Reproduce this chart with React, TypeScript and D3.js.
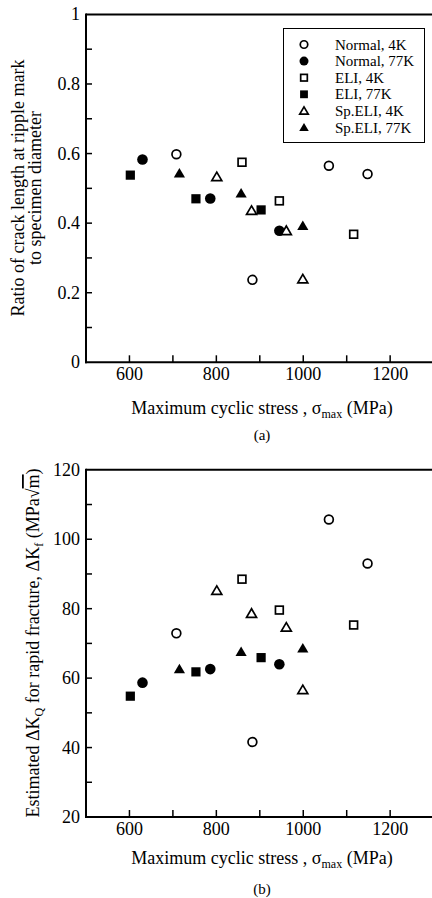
import React from "react";
import * as d3 from "d3";

// ---- Data (stress in MPa) ----
const normal4kX = [708, 883, 1059, 1148];
const normal4kRatio = [0.598, 0.237, 0.565, 0.541];
const normal4kDK = [72.9, 41.6, 105.7, 93.0];

const normal77kX = [630, 786, 945];
const normal77kRatio = [0.583, 0.471, 0.378];
const normal77kDK = [58.7, 62.6, 64.0];

const eli4kX = [859, 945, 1116];
const eli4kRatio = [0.575, 0.464, 0.368];
const eli4kDK = [88.5, 79.6, 75.3];

const eli77kX = [602, 753, 903];
const eli77kRatio = [0.538, 0.47, 0.438];
const eli77kDK = [54.8, 61.8, 65.9];

const spEli4kX = [801, 881, 961, 999];
const spEli4kRatio = [0.533, 0.436, 0.378, 0.239];
const spEli4kDK = [85.2, 78.6, 74.6, 56.6];

const spEli77kX = [715, 857, 999];
const spEli77kRatio = [0.543, 0.486, 0.392];
const spEli77kDK = [62.6, 67.6, 68.6];

const seriesNames = ["Normal, 4K", "Normal, 77K", "ELI, 4K", "ELI, 77K", "Sp.ELI, 4K", "Sp.ELI, 77K"];
const seriesShapes = ["circle", "circle", "square", "square", "triangle", "triangle"];
const seriesFilled = [false, true, false, true, false, true];
const seriesX = [normal4kX, normal77kX, eli4kX, eli77kX, spEli4kX, spEli77kX];
const seriesRatio = [normal4kRatio, normal77kRatio, eli4kRatio, eli77kRatio, spEli4kRatio, spEli77kRatio];
const seriesDK = [normal4kDK, normal77kDK, eli4kDK, eli77kDK, spEli4kDK, spEli77kDK];

const xMajorTicks = [600, 800, 1000, 1200];
const xMinorTicks = [600, 700, 800, 900, 1000, 1100, 1200];
const ratioMajorTicks = [0, 0.2, 0.4, 0.6, 0.8, 1];
const ratioMinorTicks = [0.1, 0.2, 0.3, 0.4, 0.5, 0.6, 0.7, 0.8, 0.9];
const dkMajorTicks = [20, 40, 60, 80, 100, 120];
const dkMinorTicks = [30, 40, 50, 60, 70, 80, 90, 100, 110];

const FONT = "Liberation Serif, Times New Roman, Times, DejaVu Serif, serif";

function Marker({ shape, filled, x, y, s = 1 }: { shape: string; filled: boolean; x: number; y: number; s?: number }) {
  const fill = filled ? "#000" : "#fff";
  const sw = filled ? 0 : 1.7;
  if (shape === "circle") {
    const r = (filled ? 5.3 : 4.4) * s;
    return <circle cx={x} cy={y} r={r} fill={fill} stroke="#000" strokeWidth={sw} />;
  }
  if (shape === "square") {
    const h = (filled ? 4.6 : 3.9) * s;
    return <rect x={x - h} y={y - h} width={2 * h} height={2 * h} fill={fill} stroke="#000" strokeWidth={sw} />;
  }
  const w = (filled ? 5.6 : 5.0) * s;
  const path = d3.path();
  path.moveTo(x, y - w * 0.95);
  path.lineTo(x + w, y + w * 0.75);
  path.lineTo(x - w, y + w * 0.75);
  path.closePath();
  return <path d={path.toString()} fill={fill} stroke="#000" strokeWidth={sw} strokeLinejoin="miter" />;
}

function Panel({
  yScale,
  values,
  majorTicks,
  minorTicks,
  fmt,
  showLegend,
}: {
  yScale: d3.ScaleLinear<number, number>;
  values: number[][];
  majorTicks: number[];
  minorTicks: number[];
  fmt: (v: number) => string;
  showLegend: boolean;
}) {
  const x = d3.scaleLinear().domain([500, 1300]).range([86, 433.6]);
  const [y0, y1] = yScale.range();
  const left = x(500);
  const right = x(1300);
  return (
    <g>
      <line x1={left} x2={right + 2} y1={y1} y2={y1} stroke="#000" strokeWidth={2} />
      <line x1={left} x2={left} y1={y1 - 1} y2={y0 + 1} stroke="#000" strokeWidth={2} />
      <line x1={left - 1} x2={right + 2} y1={y0} y2={y0} stroke="#000" strokeWidth={2} />
      {xMinorTicks.map((t) => (
        <line key={"xt" + t} x1={x(t)} x2={x(t)} y1={y0} y2={y0 - 7} stroke="#000" strokeWidth={1.5} />
      ))}
      {xMajorTicks.map((t) => (
        <text key={"xl" + t} x={x(t)} y={y0 + 18} textAnchor="middle" fontFamily={FONT} fontSize={18}>
          {t}
        </text>
      ))}
      {minorTicks.map((t) => (
        <line key={"yt" + t} x1={left} x2={left + 6} y1={yScale(t)} y2={yScale(t)} stroke="#000" strokeWidth={1.5} />
      ))}
      {majorTicks.map((t) => (
        <text key={"yl" + t} x={left - 6} y={yScale(t) + 6} textAnchor="end" fontFamily={FONT} fontSize={18}>
          {fmt(t)}
        </text>
      ))}
      {seriesX.map((xs, i) =>
        xs.map((xv, j) => (
          <Marker key={`p${i}-${j}`} shape={seriesShapes[i]} filled={seriesFilled[i]} x={x(xv)} y={yScale(values[i][j])} />
        ))
      )}
      {showLegend && (
        <g>
          <rect x={283.5} y={28.5} width={141} height={114} fill="#fff" stroke="#000" strokeWidth={1} />
          {seriesNames.map((n, i) => (
            <g key={"lg" + i}>
              <Marker shape={seriesShapes[i]} filled={seriesFilled[i]} x={304} y={44.5 + i * 16.6} s={0.85} />
              <text x={335} y={44.5 + i * 16.6 + 5} fontFamily={FONT} fontSize={15}>
                {n}
              </text>
            </g>
          ))}
        </g>
      )}
    </g>
  );
}

export default function App() {
  const yTop = d3.scaleLinear().domain([0, 1]).range([362.3, 14.4]);
  const yBot = d3.scaleLinear().domain([20, 120]).range([817, 469.8]);
  return (
    <svg width={432} height={898} style={{ position: "absolute", left: 0, top: 0, background: "#fff" }}>
      <rect width={432} height={898} fill="#fff" />
      <Panel
        yScale={yTop}
        values={seriesRatio}
        majorTicks={ratioMajorTicks}
        minorTicks={ratioMinorTicks}
        fmt={(v) => (v === 0 || v === 1 ? String(v) : v.toFixed(1))}
        showLegend={true}
      />
      <Panel
        yScale={yBot}
        values={seriesDK}
        majorTicks={dkMajorTicks}
        minorTicks={dkMinorTicks}
        fmt={(v) => String(v)}
        showLegend={false}
      />
      <text x={262} y={414} textAnchor="middle" fontFamily={FONT} fontSize={18}>
        Maximum cyclic stress , σ<tspan fontSize={12} dy={4}>max</tspan>
        <tspan dy={-4}> (MPa)</tspan>
      </text>
      <text x={262} y={440} textAnchor="middle" fontFamily={FONT} fontSize={15}>
        (a)
      </text>
      <text transform="translate(24,188) rotate(-90)" textAnchor="middle" fontFamily={FONT} fontSize={18}>
        Ratio of crack length at ripple mark
      </text>
      <text transform="translate(41,188) rotate(-90)" textAnchor="middle" fontFamily={FONT} fontSize={18}>
        to specimen diameter
      </text>
      <text x={262} y={864} textAnchor="middle" fontFamily={FONT} fontSize={18}>
        Maximum cyclic stress , σ<tspan fontSize={12} dy={4}>max</tspan>
        <tspan dy={-4}> (MPa)</tspan>
      </text>
      <text x={262} y={894} textAnchor="middle" fontFamily={FONT} fontSize={15}>
        (b)
      </text>
      <text transform="translate(39,643) rotate(-90)" textAnchor="middle" fontFamily={FONT} fontSize={18}>
        Estimated ΔK<tspan fontSize={12} dy={4}>Q</tspan>
        <tspan dy={-4}> for rapid fracture, ΔK</tspan>
        <tspan fontSize={12} dy={4}>f</tspan>
        <tspan dy={-4}> (MPa√</tspan>
        <tspan style={{ textDecoration: "overline" }}>m</tspan>
        <tspan>)</tspan>
      </text>
    </svg>
  );
}
